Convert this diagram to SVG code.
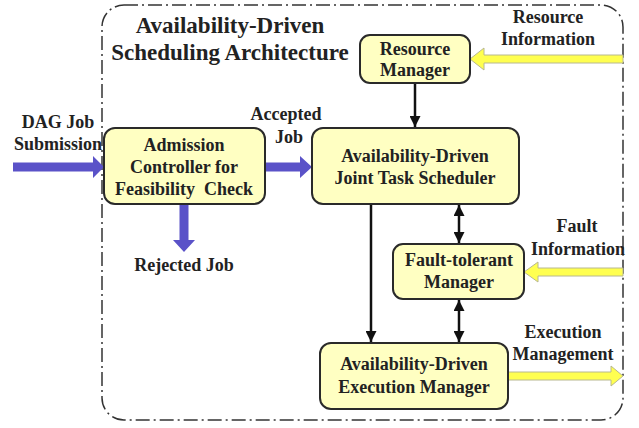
<svg xmlns="http://www.w3.org/2000/svg" width="639" height="428" viewBox="0 0 639 428">
<defs>
<style>
.box{fill:#ffffc2;stroke:#2a2a2a;stroke-width:2}
.t{font-weight:bold;font-size:18px;fill:#222;text-anchor:middle;white-space:pre}
.title{font-size:23px}
.blue{fill:#5a52c8;stroke:none}
.yel{fill:#ffff50;stroke:#b8b890;stroke-width:1}
.blk{stroke:#111;stroke-width:2.5;fill:none}
</style>
<marker id="ah" viewBox="0 0 10 10" refX="10" refY="5" markerWidth="4.4" markerHeight="4.4" orient="auto-start-reverse" markerUnits="strokeWidth">
<path d="M0,0 L10,5 L0,10 z" fill="#111"/>
</marker>
</defs>
<rect width="639" height="428" fill="#fff"/>
<g font-family="'Liberation Serif', 'Times New Roman', 'DejaVu Serif', serif">
<g id="frame">
<rect x="102" y="5" width="521" height="415" rx="22" fill="none" stroke="#333" stroke-width="1.5" stroke-dasharray="14 4 2 4"/>
<text class="t title" x="230" y="33">Availability-Driven</text>
<text class="t title" x="230" y="60">Scheduling Architecture</text>
</g>
<g id="connectors">
<polygon class="blue" points="13,162.5 93,162.5 93,156 104,167 93,178 93,171.5 13,171.5"/>
<polygon class="blue" points="265,162.5 300,162.5 300,156 312,167 300,178 300,171.5 265,171.5"/>
<polygon class="blue" points="179.5,204 188.5,204 188.5,240 195,240 184,252 173,240 179.5,240"/>
<polygon class="yel" points="623,55 484,55 484,48 470,59 484,70 484,63 623,63"/>
<polygon class="yel" points="623,268 538,268 538,262 524,272 538,282 538,276 623,276"/>
<polygon class="yel" points="508,372 611,372 611,366 623,376 611,386 611,380 508,380"/>
<line class="blk" x1="415" y1="83" x2="415" y2="127" marker-end="url(#ah)"/>
<line class="blk" x1="371" y1="204" x2="371" y2="342" marker-end="url(#ah)"/>
<line class="blk" x1="459" y1="205" x2="459" y2="243" marker-start="url(#ah)" marker-end="url(#ah)"/>
<line class="blk" x1="459" y1="300" x2="459" y2="342" marker-start="url(#ah)" marker-end="url(#ah)"/>
<text class="t" x="58" y="128">DAG Job</text>
<text class="t" x="58" y="150">Submission</text>
<text class="t" x="286" y="120">Accepted</text>
<text class="t" x="289" y="143">Job</text>
<text class="t" x="184" y="271">Rejected Job</text>
<text class="t" x="548" y="23">Resource</text>
<text class="t" x="548" y="45">Information</text>
<text class="t" x="577" y="232">Fault</text>
<text class="t" x="578" y="255">Information</text>
<text class="t" x="563" y="338">Execution</text>
<text class="t" x="563" y="360">Management</text>
</g>
<g id="admission">
<rect class="box" x="104" y="128" width="161" height="76" rx="11"/>
<text class="t" x="184" y="151">Admission</text>
<text class="t" x="184" y="173">Controller for</text>
<text class="t" x="184" y="195" xml:space="preserve">Feasibility  Check</text>
</g>
<g id="resource-manager">
<rect class="box" x="360" y="35" width="110" height="48" rx="10"/>
<text class="t" x="415" y="55">Resource</text>
<text class="t" x="415" y="76">Manager</text>
</g>
<g id="scheduler">
<rect class="box" x="312" y="128" width="207" height="76" rx="11"/>
<text class="t" x="415" y="162">Availability-Driven</text>
<text class="t" x="415" y="184">Joint Task Scheduler</text>
</g>
<g id="fault-manager">
<rect class="box" x="393" y="244" width="131" height="55" rx="10"/>
<text class="t" x="459" y="266">Fault-tolerant</text>
<text class="t" x="459" y="288">Manager</text>
</g>
<g id="execution-manager">
<rect class="box" x="320" y="343" width="188" height="66" rx="11"/>
<text class="t" x="414" y="370">Availability-Driven</text>
<text class="t" x="414" y="393">Execution Manager</text>
</g>
</g>
</svg>
